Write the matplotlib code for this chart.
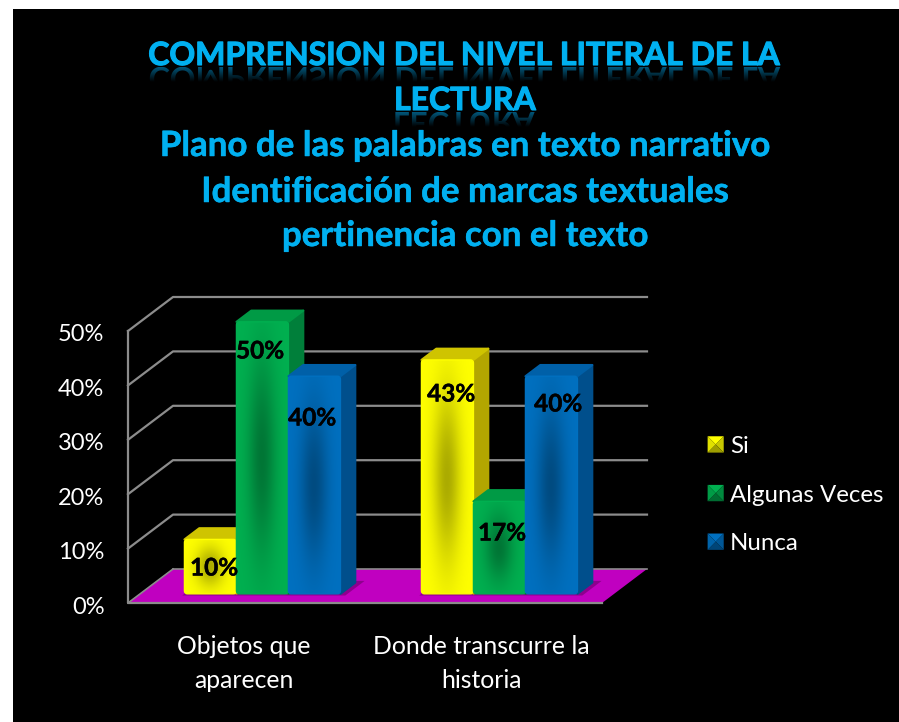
import numpy as np
import matplotlib
matplotlib.use('Agg')
import matplotlib.pyplot as plt
import matplotlib.patheffects as pe
from matplotlib.patches import Polygon, Patch, PathPatch, Rectangle, FancyBboxPatch
from matplotlib.legend_handler import HandlerBase
from matplotlib.textpath import TextPath
from matplotlib.font_manager import FontProperties
from matplotlib.transforms import Affine2D, ScaledTranslation

categories = ['Objetos que\naparecen', 'Donde transcurre la\nhistoria']
series = ['Si', 'Algunas Veces', 'Nunca']
si = [10, 43]
algunas = [50, 17]
nunca = [40, 40]
yticks = [0, 10, 20, 30, 40, 50]
title_lines = ['COMPRENSION DEL NIVEL LITERAL DE LA', 'LECTURA',
               'Plano de las palabras en texto narrativo',
               'Identificación de marcas textuales',
               'pertinencia con el texto']

# front, side, top colours of each series
colors = [('#FFFF00', '#B3A600', '#CFC400'),
          ('#00B050', '#007F3A', '#009A45'),
          ('#0070C0', '#004F8C', '#0060A8')]
title_color = '#00B0F0'

plt.rcParams['font.family'] = ['Lato', 'DejaVu Sans']

W, H = 899, 722
fig = plt.figure(figsize=(W / 100, H / 100), dpi=100, facecolor='white')

# black panel
bg = fig.add_axes([0, 0, 1, 1])
bg.axis('off')
bg.add_patch(Rectangle((13, 9), W - 13, H - 9, color='black', lw=0))

# main axes: front plane of the 3d box
left, right, y0, y50 = 128, 602, 603, 331
ax = fig.add_axes([left / W, 1 - y0 / H, (right - left) / W, (y0 - y50) / H])
ax.patch.set_alpha(0)
for s in ax.spines.values():
    s.set_visible(False)

PX_X = 237  # pixels per x unit
PX_Y = 5.44  # pixels per percent
DX = 45 / PX_X
DY = 34 / PX_Y


def proj(x, v, d):
    # oblique projection, d = 0 front of the box, d = 1 back wall
    return x + d * DX, v + d * DY


grid_c = '#8C8C8C'
for v in yticks[1:]:
    a = proj(0, v, 0)
    b = proj(0, v, 1)
    c = proj(2, v, 1)
    ax.plot([a[0], b[0], c[0]], [a[1], b[1], c[1]], color=grid_c, lw=1.6, zorder=1, clip_on=False)
floor = [proj(0, 0, 0), proj(2, 0, 0), proj(2, 0, 1), proj(0, 0, 1)]
ax.add_patch(Polygon(floor, closed=True, fc='#C000C0', ec='none', zorder=2, clip_on=False))
ax.plot([floor[3][0], floor[2][0]], [floor[3][1], floor[2][1]], color=grid_c, lw=1.2, zorder=2, clip_on=False)
ax.plot([0, 0, 2], [50, 0, 0], color=grid_c, lw=1.6, zorder=3, clip_on=False)
ax.plot([0, floor[3][0]], [0, floor[3][1]], color=grid_c, lw=1.2, zorder=3, clip_on=False)

bar_w = 52 / PX_X
d0, d1 = 0.27, 0.60
rows = [si, algunas, nunca]
groups = [0.516, 1.516]


def front_image(rgb, n=90):
    # dark blotch in the middle of the face
    yy, xx = np.mgrid[0:1:n * 1j, 0:1:n * 1j]
    blot = np.exp(-((xx - 0.5) / 0.27) ** 2 - ((yy - 0.5) / 0.36) ** 2)
    shade = 1 - 0.33 * blot
    return np.ones((n, n, 3)) * np.array(matplotlib.colors.to_rgb(rgb)) * shade[..., None]


z = 5
for gi, gx in enumerate(groups):
    # shadow on the floor
    s0 = gx - 1.5 * bar_w
    s1 = gx + 1.5 * bar_w
    shadow = [proj(s0, 0, d0 - 0.05), proj(s1 + 0.03, 0, d0 - 0.05), proj(s1 + 0.03, 0, d1 + 0.05), proj(s0, 0, d1 + 0.05)]
    ax.add_patch(Polygon(shadow, closed=True, fc='#8E008E', ec='none', zorder=2.5))
    for si_idx, row in enumerate(rows):
        v = row[gi]
        x0 = gx + (si_idx - 1.5) * bar_w
        x1 = x0 + bar_w
        front, side, top = colors[si_idx]
        fx0, fb = proj(x0, 0, d0)
        fx1, ft = proj(x1, v, d0)
        side_poly = [proj(x1, 0, d0), proj(x1, 0, d1), proj(x1, v, d1), proj(x1, v, d0)]
        top_poly = [proj(x0, v, d0), proj(x1, v, d0), proj(x1, v, d1), proj(x0, v, d1)]
        ax.add_patch(Polygon(side_poly, closed=True, fc=side, ec=side, lw=1.5, joinstyle='round', zorder=z, clip_on=False))
        ax.add_patch(Polygon(top_poly, closed=True, fc=top, ec=top, lw=1.5, joinstyle='round', zorder=z, clip_on=False))
        rim = FancyBboxPatch((fx0, fb), fx1 - fx0, ft - fb, boxstyle=f'round,pad=0,rounding_size={3 / PX_X}',
                             mutation_aspect=PX_X / PX_Y, fc='none', ec=front, lw=1, zorder=z + 0.6, clip_on=False)
        ax.add_patch(rim)
        im = ax.imshow(front_image(front), extent=[fx0, fx1, fb, ft], aspect='auto', zorder=z + 0.5,
                       interpolation='bilinear')
        im.set_clip_path(rim)
        im.set_clip_box(fig.bbox)
        z += 1

ax.set_xlim(0, 2)
ax.set_ylim(0, 50)

# data labels
label_x = {(0, 0): 214, (0, 1): 260, (0, 2): 312, (1, 0): 451, (1, 1): 502, (1, 2): 558}
label_y = {(0, 0): 568, (0, 1): 351, (0, 2): 418, (1, 0): 394, (1, 1): 533, (1, 2): 404}
for gi in range(2):
    for si_idx, row in enumerate(rows):
        fig.text(label_x[(gi, si_idx)] / W, 1 - label_y[(gi, si_idx)] / H, f'{row[gi]}%', color='black',
                 fontsize=17.5, fontweight='bold', ha='center', va='center', zorder=50,
                 path_effects=[pe.withStroke(linewidth=0.3, foreground='black')])

ax.set_yticks(yticks)
ax.set_yticklabels([f'{v}%' for v in yticks], color='white', fontsize=17)
ax.set_xticks([0.49, 1.49])
ax.set_xticklabels(categories, color='white', fontsize=17.8, linespacing=1.6)
ax.tick_params(axis='y', length=0, pad=17)
ax.tick_params(axis='x', length=0, pad=23)
for lab in ax.get_yticklabels():
    lab.set_transform(lab.get_transform() + ScaledTranslation(0, -2 / 100, fig.dpi_scale_trans))


# legend with the little pyramid keys
class PyramidHandler(HandlerBase):
    def create_artists(self, legend, orig, xd, yd, width, height, fontsize, trans):
        c = matplotlib.colors.to_rgb(orig.get_facecolor())
        x0, y0_, x1, y1 = -xd, -yd, -xd + width, -yd + height
        cx, cy = (x0 + x1) / 2, (y0_ + y1) / 2
        faces = [([(x0, y1), (x1, y1), (cx, cy)], 1.0),
                 ([(x1, y1), (x1, y0_), (cx, cy)], 0.78),
                 ([(x0, y0_), (x1, y0_), (cx, cy)], 0.62),
                 ([(x0, y0_), (x0, y1), (cx, cy)], 0.88)]
        return [Polygon(pts, closed=True, fc=tuple(np.array(c) * k), ec='none', transform=trans) for pts, k in faces]


handles = [Patch(fc=colors[i][0], label=series[i]) for i in range(3)]
fig.legend(handles=handles, handler_map={Patch: PyramidHandler()}, frameon=False,
           loc='center left', bbox_to_anchor=(686 / W, 1 - 495 / H), labelcolor='white',
           fontsize=17.3, labelspacing=1.15, handlelength=0.67, handleheight=0.67, handletextpad=0.26)

# title lines with the reflection under the first two
fp_big = FontProperties(family='Lato', weight='bold', size=23)
baselines = [65, 110, 156, 202, 246]
sizes = [23, 23, 25.1, 25.1, 25.1]
strokes = [0.8, 0.8, 0.35, 0.35, 0.35]
for line, yb, fs, sw in zip(title_lines, baselines, sizes, strokes):
    bg.text(465, yb, line, color=title_color, fontsize=fs, fontweight='bold', ha='center', va='baseline',
            zorder=10, path_effects=[pe.withStroke(linewidth=sw, foreground=title_color)])

fade = np.zeros((40, 2, 3))
fade[:, :, 1] = np.linspace(0.34, 0, 40)[:, None]
fade[:, :, 2] = np.linspace(0.48, 0, 40)[:, None]
for line, yb in zip(title_lines[:2], baselines[:2]):
    # path y goes up, the panel's y axis goes down, so this is already mirrored
    tp = TextPath((0, 0), line, size=23 * 100 / 72, prop=fp_big)
    ext = tp.get_extents()
    tr = Affine2D().translate(465 - ext.width / 2 - ext.x0, yb + 2) + bg.transData
    patch = PathPatch(tp, transform=tr, fc='none', ec='none')
    bg.add_patch(patch)
    im = bg.imshow(fade, extent=[140, 790, yb + 17, yb + 2], aspect='auto', zorder=9, interpolation='bilinear')
    im.set_clip_path(patch)

bg.set_xlim(0, W)
bg.set_ylim(H, 0)

fig.savefig('out.png', dpi=100, facecolor='white')
